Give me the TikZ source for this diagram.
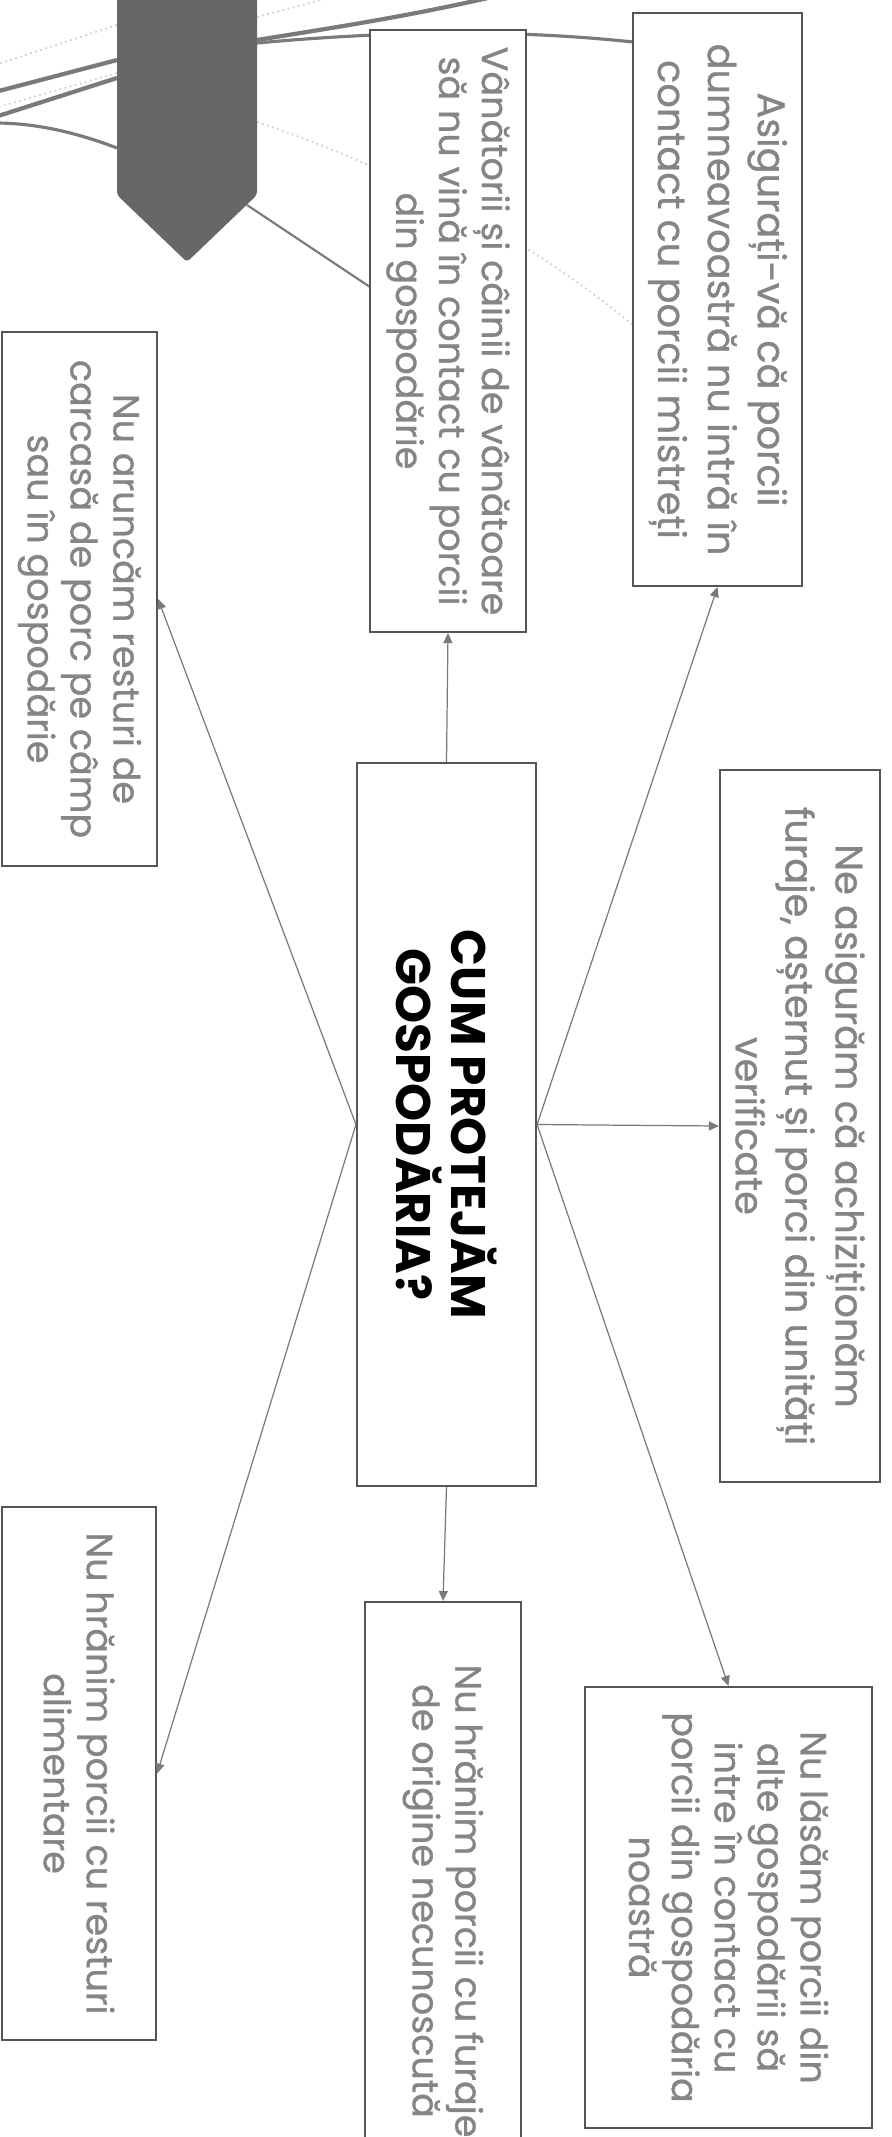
\documentclass[tikz,border=0pt]{standalone}
\usepackage{fontspec}
\setmainfont{Poppins}[UprightFeatures={FakeBold=0.8}]
\usetikzlibrary{arrows.meta}
\definecolor{txtgray}{HTML}{858585}
\definecolor{linegray}{HTML}{7A7A7A}
\definecolor{boxgray}{HTML}{555555}
\definecolor{tabgray}{HTML}{676767}
\definecolor{faintgray}{HTML}{D0D0D0}

\begin{document}
\begin{tikzpicture}[x=0.1mm,y=-0.1mm,
    card/.style={draw=boxgray,line width=0.6pt,fill=white,rotate=-90,
      align=center,text=txtgray,inner sep=0pt},
    big/.style={font=\fontsize{10.9}{14.2}\selectfont},
    small/.style={font=\fontsize{10.4}{12.2}\selectfont},
    link/.style={draw=linegray,line width=0.35pt,
      -{Triangle[length=1mm,width=0.9mm]}}]
\useasboundingbox (0,0) rectangle (892,2137);
\clip (0,0) rectangle (892,2137);

% pieces of the picture above
\draw[faintgray,line width=0.5pt,densely dotted] (257,17) -- (340,-5);
\draw[faintgray,line width=0.5pt,densely dotted] (117,25) -- (-5,65);
\draw[faintgray,line width=0.5pt,densely dotted] (117,73) -- (-5,108);
\draw[faintgray,line width=0.5pt,densely dotted] (257,122) .. controls (400,170) and (530,240) .. (633,325);
\draw[linegray,line width=1.2pt] (257,40) .. controls (350,25) and (450,10) .. (560,-20);
\draw[linegray,line width=0.9pt] (257,43) .. controls (400,30) and (520,30) .. (633,42);
\draw[linegray,line width=0.6pt] (247,205) -- (370,287);
\draw[linegray,line width=1.2pt] (117,60) -- (-5,92);
\draw[linegray,line width=1.2pt] (117,78) -- (-5,117);
\draw[linegray,line width=0.9pt] (117,148) .. controls (70,130) and (30,123) .. (-5,123);
\fill[tabgray,rounded corners=1pt] (117,-40) -- (117,195) -- (187,262) -- (257,195) -- (257,-40) -- cycle;

% the boxes
\node (cum) [card,text=black,minimum width=72.3mm,minimum height=17.9mm,
  font=\fontsize{13.8}{15.6}\selectfont\bfseries] at (446.5,1124.5)
  {CUM PROTEJĂM\\GOSPODĂRIA?};
\node (asig) [card,big,minimum width=57.3mm,minimum height=16.9mm] at (717.5,299.5)
  {Asigurați-vă că porcii\\dumneavoastră nu intră în\\contact cu porcii mistreți};
\node (vanat) [card,small,minimum width=60.2mm,minimum height=15.6mm] at (448,331)
  {Vânătorii și câinii de vânătoare\\să nu vină în contact cu porcii\\din gospodărie};
\node (aruncam) [card,small,minimum width=53.4mm,minimum height=15.5mm] at (79.5,599)
  {Nu aruncăm resturi de\\carcasă de porc pe câmp\\sau în gospodărie};
\node (neasig) [card,big,minimum width=71.2mm,minimum height=16mm] at (800,1126)
  {Ne asigurăm că achiziționăm\\furaje, așternut și porci din unități\\verificate};
\node (nulasam) [card,small,minimum width=44.1mm,minimum height=28.7mm] at (728.5,1907.5)
  {Nu lăsăm porcii din\\alte gospodării să\\intre în contact cu\\porcii din gospodăria\\noastră};
\node (furaje) [card,small,minimum width=59.8mm,minimum height=15.6mm] at (443,1901)
  {Nu hrănim porcii cu furaje\\de origine necunoscută};
\node (resturi) [card,small,minimum width=53.3mm,minimum height=15.4mm] at (79,1773.5)
  {Nu hrănim porcii cu resturi\\alimentare};

% arrows out of the middle box
\draw[link] (cum.west) -- (vanat.east);
\draw[link] (cum.east) -- (furaje.west);
\draw[link] (cum.north) -- (asig.east);
\draw[link] (cum.north) -- (neasig.south);
\draw[link] (cum.north) -- (nulasam.west);
\draw[link] (cum.south) -- (aruncam.north);
\draw[link] (cum.south) -- (resturi.north);
\end{tikzpicture}
\end{document}
